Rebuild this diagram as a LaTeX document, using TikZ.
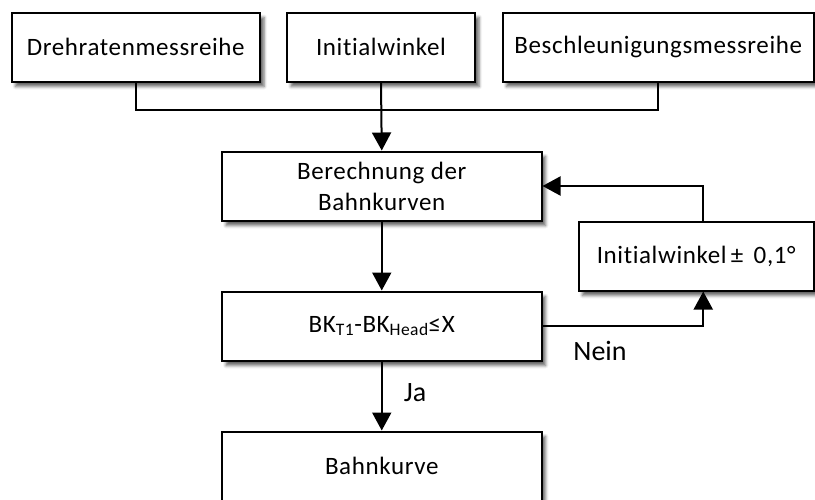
\documentclass[tikz,border=0pt]{standalone}
\usepackage{fontspec}
\setmainfont{Carlito}[LetterSpace=2.5, Ligatures=NoCommon]
\newfontfamily\lblfont{Carlito}[Ligatures=NoCommon]
\usetikzlibrary{arrows.meta,shadows.blur}
\begin{document}
\begin{tikzpicture}[x=1pt,y=-1pt,
  box/.style={draw=black, line width=2pt, fill=white, minimum height=69pt, inner sep=0pt,
    font=\fontsize{25}{31}\selectfont, align=center,
    blur shadow={shadow xshift=4pt, shadow yshift=-5pt, shadow blur radius=3pt, shadow opacity=60}},
  conn/.style={line width=2pt},
  arr/.style={conn, -{Triangle[width=19pt,length=18pt]}},
  lbl/.style={font=\lblfont\fontsize{28}{30}\selectfont, inner sep=0pt}]
\useasboundingbox (0,0) rectangle (815,499);
\node[box, minimum width=248.5pt] (d1) at (135.75,47) {Drehratenmessreihe};
\node[box, minimum width=188pt] (d2) at (381,47) {Initialwinkel};
\node[box, minimum width=311.5pt] (d3) at (658.25,47) {Beschleunigungsmessreihe};
\node[box, minimum width=319.5pt] (ber) at (381.75,186) {Berechnung der\\Bahnkurven};
\node[box, minimum width=235.5pt] (init) at (696.25,256) {Initialwinkel\,± \,0,1°};
\node[box, minimum width=319.5pt] (bk) at (381.75,326) {BK\textsubscript{T1}-BK\textsubscript{Head}≤X};
\node[box, minimum width=319.5pt] (bahn) at (381.75,466) {Bahnkurve};
\coordinate (j) at (381,109.5);
\draw[conn] (d1.south) |- (j) -| (d3.south);
\draw[arr] (d2.south) -- (ber.north);
\draw[arr] (ber.south) -- (bk.north);
\draw[arr] ([xshift=7pt]init.north) |- (ber.east);
\draw[arr] (bk.east) -| ([xshift=7pt]init.south);
\draw[arr] (bk.south) -- (bahn.north);
\node[lbl] (nein) at (600,351) {Nein};
\node[lbl] (ja) at (415,393) {Ja};
\end{tikzpicture}
\end{document}
